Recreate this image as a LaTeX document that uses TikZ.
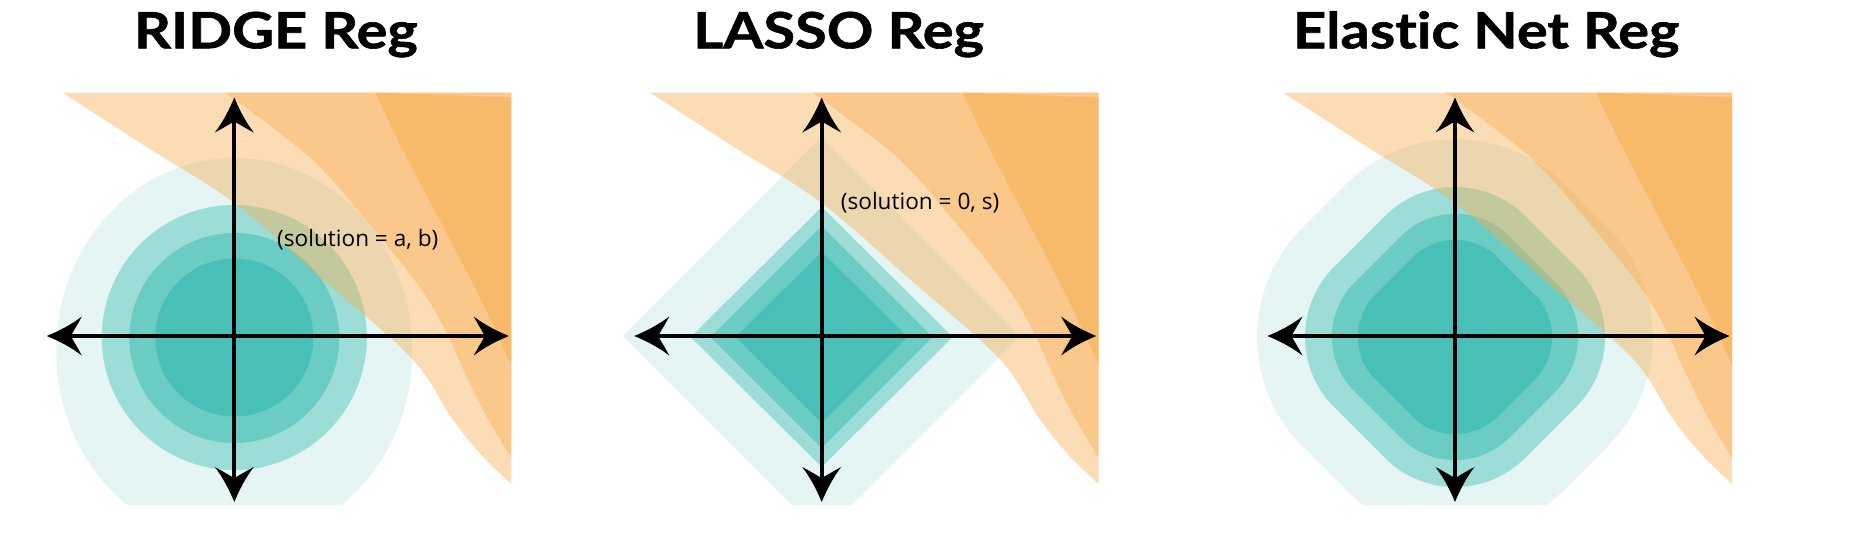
\documentclass[tikz,border=0pt]{standalone}
\usepackage{fontspec}
\setmainfont{Lato}
\newfontfamily\labelfont{Open Sans}
\newfontfamily\titlefont[FakeStretch=1.155, FakeBold=1.2, Ligatures={NoCommon,NoContextual}]{Lato}
\definecolor{tealA}{HTML}{E4F5F3}
\definecolor{tealB}{HTML}{9DDDD7}
\definecolor{tealC}{HTML}{6BCCC4}
\definecolor{tealD}{HTML}{48C0B8}
\definecolor{orng}{HTML}{F8AC4F}
\tikzset{
  orlayer/.style={fill=orng, fill opacity=0.42},
  ordark/.style={fill=orng, fill opacity=0.55},
  axisline/.style={line width=4pt, black, shorten <=20pt, shorten >=20pt},
  ttl/.style={font=\titlefont\bfseries\fontsize{50}{60}\selectfont, inner sep=0pt, anchor=base},
  lbl/.style={font=\labelfont\fontsize{22.6}{26}\selectfont, inner sep=0pt, anchor=base west},
  ahead/.pic={
    \fill[black] (0,0) .. controls (-12,-5) and (-24,-11) .. (-35,-19.5)
      .. controls (-30,-10) and (-26,-4) .. (-24,0)
      .. controls (-26,4) and (-30,10) .. (-35,19.5)
      .. controls (-24,11) and (-12,5) .. (0,0) -- cycle;
  },
  orangebg/.pic={
    \fill[orlayer] (-172,243.5) -- (277,243.5) -- plot[smooth, tension=0.55] coordinates
      {(277,-148) (248,-120) (218,-83) (178,-23) (89,56) (0,133) (-86,188) (-172,243.5)} -- cycle;
    \fill[orlayer] (-9.5,243.5) -- (277,243.5) -- plot[smooth, tension=0.55] coordinates
      {(277,-122) (252,-80) (231,-38) (212,4) (186,48) (134,113) (75,179) (-9.5,243.5)} -- cycle;
    \fill[ordark] (141,243.5) -- (277,238.5) -- (277,-30)
      .. controls (240,60) and (183,150) .. (141,243.5) -- cycle;
  },
  axes/.pic={
    \coordinate (-l) at (-187.5,0);
    \coordinate (-r) at (274.5,0);
    \coordinate (-t) at (0,238.5);
    \coordinate (-b) at (0,-166);
    \draw[axisline] (-l) -- (-r);
    \draw[axisline] (-b) -- (-t);
    \pic[rotate=180] at (-l) {ahead};
    \pic at (-r) {ahead};
    \pic[rotate=90] at (-t) {ahead};
    \pic[rotate=-90] at (-b) {ahead};
  }
}
\begin{document}
\begin{tikzpicture}[x=1pt, y=1pt]
\useasboundingbox (0,0) rectangle (1868,-544);

% titles
\node[ttl] (tR) at (275.9,-48.3) {RIDGE Reg};
\node[ttl] (tL) at (838.6,-48.3) {LASSO Reg};
\node[ttl] (tE) at (1486.2,-48.3) {Elastic Net Reg};

% ---------- RIDGE ----------
\begin{scope}[shift={(234.3,-336)}]
  \begin{scope}
    \clip (-300,-168) rectangle (300,300);
    \fill[tealA] (0,-15) ellipse [x radius=178, y radius=193];
  \end{scope}
  \fill[tealB] (0,-1.5) circle [radius=132.5];
  \fill[tealC] (0,-2) circle [radius=105];
  \fill[tealD] (0,-1.5) circle [radius=79];
  \pic {orangebg};
  \pic (ax1) {axes};
  \node[lbl] (sR) at (42.7,89.3) {(solution = a, b)};
\end{scope}

% ---------- LASSO ----------
\begin{scope}[shift={(821.7,-336)}]
  \begin{scope}
    \clip (-300,-168) rectangle (300,300);
    \fill[tealA] (0,199) -- (-199,0) -- (0,-199) -- (199,0) -- cycle;
  \end{scope}
  \fill[tealB] (0,129) -- (-131,-1) -- (0,-131) -- (131,-1) -- cycle;
  \fill[tealC] (0,110) -- (-111,-1) -- (0,-112) -- (111,-1) -- cycle;
  \fill[tealD] (0,84) -- (-86,-1) -- (0,-87) -- (86,-1) -- cycle;
  \pic {orangebg};
  \pic (ax2) {axes};
  \node[lbl] (sL) at (19,126.7) {(solution = 0, s)};
\end{scope}

% ---------- ELASTIC NET ----------
\begin{scope}[shift={(1455,-336)}]
  \begin{scope}
    \clip (-300,-168) rectangle (300,300);
    \fill[tealA, rounded corners=155pt] (131,130) -- (0,261) -- (-262,-1) -- (0,-263) -- (262,-1) -- cycle;
  \end{scope}
  \fill[tealB, rounded corners=99pt] (95.5,94.5) -- (0,190) -- (-191,-1) -- (0,-192) -- (191,-1) -- cycle;
  \fill[tealC, rounded corners=77pt] (77.5,76.5) -- (0,154) -- (-155,-1) -- (0,-156) -- (155,-1) -- cycle;
  \fill[tealD, rounded corners=60pt] (61,60) -- (0,121) -- (-122,-1) -- (0,-123) -- (122,-1) -- cycle;
  \pic {orangebg};
  \pic (ax3) {axes};
\end{scope}
\end{tikzpicture}
\end{document}
